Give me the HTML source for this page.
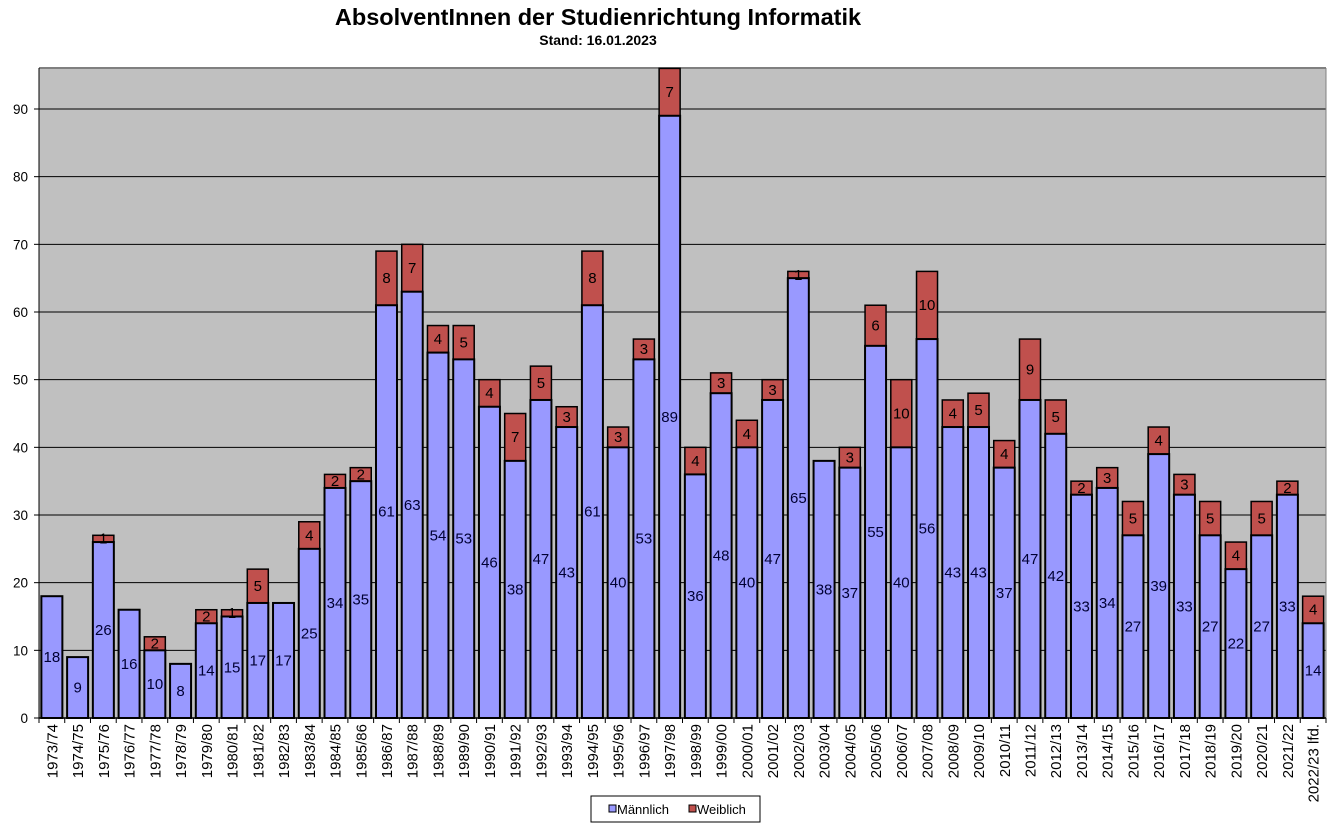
<!DOCTYPE html>
<html><head><meta charset="utf-8"><style>
html,body{margin:0;padding:0;background:#fff;}
svg{display:block;font-family:"Liberation Sans",Arial,sans-serif;}
</style></head><body>
<svg id="c" width="1340" height="831" xmlns="http://www.w3.org/2000/svg"></svg>
<script>
const d=[["1973/74",18,0],["1974/75",9,0],["1975/76",26,1],["1976/77",16,0],["1977/78",10,2],["1978/79",8,0],["1979/80",14,2],["1980/81",15,1],["1981/82",17,5],["1982/83",17,0],["1983/84",25,4],["1984/85",34,2],["1985/86",35,2],["1986/87",61,8],["1987/88",63,7],["1988/89",54,4],["1989/90",53,5],["1990/91",46,4],["1991/92",38,7],["1992/93",47,5],["1993/94",43,3],["1994/95",61,8],["1995/96",40,3],["1996/97",53,3],["1997/98",89,7],["1998/99",36,4],["1999/00",48,3],["2000/01",40,4],["2001/02",47,3],["2002/03",65,1],["2003/04",38,0],["2004/05",37,3],["2005/06",55,6],["2006/07",40,10],["2007/08",56,10],["2008/09",43,4],["2009/10",43,5],["2010/11",37,4],["2011/12",47,9],["2012/13",42,5],["2013/14",33,2],["2014/15",34,3],["2015/16",27,5],["2016/17",39,4],["2017/18",33,3],["2018/19",27,5],["2019/20",22,4],["2020/21",27,5],["2021/22",33,2],["2022/23 lfd.",14,4]];
const L=39,R=1326,T=68,B=718,k=(718-109)/90,w=(R-L)/50;
const y=v=>B-v*k;
let s='';
s+=`<text x="598" y="25" text-anchor="middle" font-size="23.5" font-weight="bold">AbsolventInnen der Studienrichtung Informatik</text>`;
s+=`<text x="598" y="45" text-anchor="middle" font-size="14" font-weight="bold">Stand: 16.01.2023</text>`;
s+=`<rect x="${L}" y="${T}" width="${R-L}" height="${B-T}" fill="#c0c0c0"/>`;
for(let v=10;v<=90;v+=10){s+=`<line x1="${L}" x2="${R}" y1="${y(v)}" y2="${y(v)}" stroke="#000" stroke-width="1"/>`;}
for(let v=0;v<=90;v+=10){s+=`<text x="28" y="${y(v)+5}" text-anchor="end" font-size="13.5">${v}</text><line x1="34" x2="${L}" y1="${y(v)}" y2="${y(v)}" stroke="#000"/>`;}
s+=`<line x1="${L}" x2="${R}" y1="${T}" y2="${T}" stroke="#808080" stroke-width="2"/>`;
s+=`<line x1="${R}" x2="${R}" y1="${T}" y2="${B}" stroke="#808080" stroke-width="1"/>`;
s+=`<line x1="${L}" x2="${L}" y1="${T}" y2="${B}" stroke="#000" stroke-width="1"/>`;
d.forEach((r,i)=>{
 const cx=L+w*(i+.5),bw=21,x=cx-bw/2,m=r[1],f=r[2];
 if(f>0){s+=`<rect x="${x}" y="${y(m+f)}" width="${bw}" height="${f*k}" fill="#c0504d" stroke="#000" stroke-width="1.5"/>`;}
 s+=`<rect x="${x}" y="${y(m)}" width="${bw}" height="${m*k}" fill="#9999ff" stroke="#000" stroke-width="2"/>`;
 s+=`<text x="${cx}" y="${y(m/2)+5}" text-anchor="middle" font-size="15" fill="#000033">${m}</text>`;
 if(f>0)s+=`<text x="${cx}" y="${y(m+f/2)+5}" text-anchor="middle" font-size="15" fill="#000">${f}</text>`;
 s+=`<line x1="${L+w*i}" x2="${L+w*i}" y1="${B}" y2="${B+5}" stroke="#000"/>`;
 s+=`<text transform="translate(${cx+5.5},724) rotate(-90)" text-anchor="end" font-size="15">${r[0]}</text>`;
});
s+=`<line x1="${R}" x2="${R}" y1="${B}" y2="${B+5}" stroke="#000"/>`;
s+=`<line x1="${L}" x2="${R}" y1="${B}" y2="${B}" stroke="#000" stroke-width="1.5"/>`;
s+=`<rect x="591" y="796" width="169" height="26" fill="#fff" stroke="#000"/>`;
s+=`<rect x="609" y="805" width="7" height="7" fill="#9999ff" stroke="#000"/><text x="617" y="814" font-size="13">Männlich</text>`;
s+=`<rect x="689" y="805" width="7" height="7" fill="#c0504d" stroke="#000"/><text x="697" y="814" font-size="13">Weiblich</text>`;
document.getElementById('c').innerHTML=s;
</script>
</body></html>
